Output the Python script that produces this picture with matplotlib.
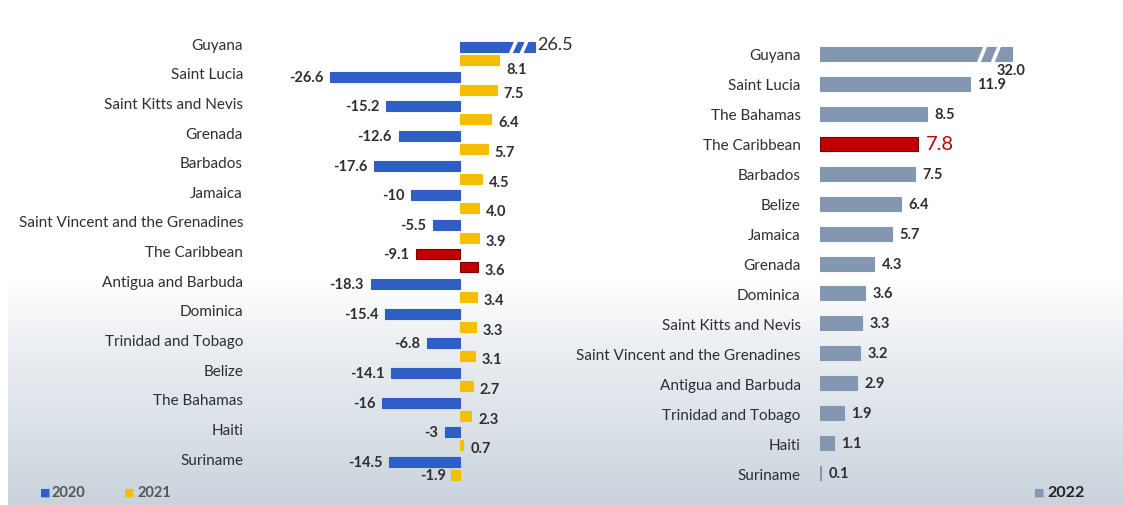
import numpy as np
import matplotlib.pyplot as plt
from matplotlib.colors import LinearSegmentedColormap

plt.rcParams['font.family'] = ['Lato', 'DejaVu Sans']

# left panel: growth 2020 / 2021
countries_left = ["Guyana", "Saint Lucia", "Saint Kitts and Nevis", "Grenada", "Barbados",
                  "Jamaica", "Saint Vincent and the Grenadines", "The Caribbean",
                  "Antigua and Barbuda", "Dominica", "Trinidad and Tobago", "Belize",
                  "The Bahamas", "Haiti", "Suriname"]
g2020 = [26.5, -26.6, -15.2, -12.6, -17.6, -10, -5.5, -9.1, -18.3, -15.4, -6.8, -14.1, -16, -3, -14.5]
g2021 = [8.1, 7.5, 6.4, 5.7, 4.5, 4.0, 3.9, 3.6, 3.4, 3.3, 3.1, 2.7, 2.3, 0.7, -1.9]

# right panel: growth 2022
countries_right = ["Guyana", "Saint Lucia", "The Bahamas", "The Caribbean", "Barbados", "Belize",
                   "Jamaica", "Grenada", "Dominica", "Saint Kitts and Nevis",
                   "Saint Vincent and the Grenadines", "Antigua and Barbuda",
                   "Trinidad and Tobago", "Haiti", "Suriname"]
g2022 = [32.0, 11.9, 8.5, 7.8, 7.5, 6.4, 5.7, 4.3, 3.6, 3.3, 3.2, 2.9, 1.9, 1.1, 0.1]

BLUE = '#2f5fc4'
YELLOW = '#f5bf00'
RED = '#c00000'
SLATE = '#8497b0'
TXT = '#2e2e2e'

W, H = 1123, 506
fig = plt.figure(figsize=(W / 100, H / 100), dpi=100)
fig.patch.set_facecolor('white')


def px_axes(x0, y0, x1, y1, **kw):
    return fig.add_axes([x0 / W, 1 - y1 / H, (x1 - x0) / W, (y1 - y0) / H], **kw)


# background gradient (white top, grey-blue bottom)
bg = px_axes(8, 0, W, H)
bg.set_zorder(-5)
cmap = LinearSegmentedColormap.from_list('bg', [(0, '#ffffff'), (0.56, '#ffffff'), (0.68, '#eceff3'),
                                                (0.84, '#dbe2e8'), (1, '#cad3dc')])
grad = np.linspace(0, 1, 256).reshape(-1, 1)
bg.imshow(grad, aspect='auto', cmap=cmap, extent=[0, 1, 1, 0])
bg.axis('off')

# ---- left panel ----
axL = px_axes(300, 30, 560, 490)
axL.patch.set_alpha(0)
n = len(countries_left)
rows = np.arange(n)
step = 29.64
off = 6.5 / step
hgt = 10 / step
cap_left = 15.4

blue_vals = [min(v, cap_left) for v in g2020]
col20 = [RED if c == "The Caribbean" else BLUE for c in countries_left]
col21 = [RED if c == "The Caribbean" else YELLOW for c in countries_left]
axL.barh(rows - off, blue_vals, height=hgt, color=col20,
         edgecolor=['#7a0000' if c == RED else c for c in col20], linewidth=0.8)
axL.barh(rows + off, g2021, height=hgt, color=col21,
         edgecolor=['#7a0000' if c == RED else c for c in col21], linewidth=0.8)

# axis break on Guyana bar
for xb in (10.4, 12.6):
    axL.plot([xb, xb + 1.2], [0 - off + hgt / 2 + 0.05, 0 - off - hgt / 2 - 0.05], color='white', lw=2.6,
             solid_capstyle='butt')

axL.set_xlim((300 - 460) / 4.87, (560 - 460) / 4.87)
axL.set_ylim(-0.827 + 460 / step, -0.827)
axL.set_yticks(rows - 0.35, countries_left)
axL.tick_params(axis='y', length=0, pad=41, labelsize=11, labelcolor=TXT)
axL.set_xticks([])
for s in axL.spines.values():
    s.set_visible(False)

for i, v in enumerate(g2020):
    if v > 0:
        axL.text(blue_vals[i] + 0.4, i - off - 0.1, f"{v:g}", ha='left', va='center',
                 fontsize=13, color=TXT)
    else:
        axL.text(v - 1.4, i - off, f"{v:g}", ha='right', va='center',
                 fontsize=10.5, fontweight='bold', color=TXT)
for i, v in enumerate(g2021):
    dy = 0.3 if i == 0 else 0.1
    if v >= 0:
        axL.text(v + 1.4, i + off + dy, f"{v:.1f}", ha='left', va='center',
                 fontsize=10.5, fontweight='bold', color=TXT)
    else:
        axL.text(v - 1.0, i + off, f"{v:.1f}", ha='right', va='center',
                 fontsize=10.5, fontweight='bold', color=TXT)

# ---- right panel ----
axR = px_axes(820, 30, 1110, 490)
axR.patch.set_alpha(0)
stepR = 29.93
rowsR = np.arange(len(countries_right))
cap_right = 15.2
vals22 = [min(v, cap_right) for v in g2022]
col22 = [RED if c == "The Caribbean" else SLATE for c in countries_right]
axR.barh(rowsR, vals22, height=14 / stepR, color=col22,
         edgecolor=['#7a0000' if c == RED else c for c in col22], linewidth=0.8)
for xb in (12.6, 13.7):
    axR.plot([xb, xb + 0.55], [0.28, -0.28], color='white', lw=2.6, solid_capstyle='butt')

axR.set_xlim(0, (1110 - 820) / 12.6)
axR.set_ylim(-0.835 + 460 / stepR, -0.835)
axR.set_yticks(rowsR, countries_right)
axR.tick_params(axis='y', length=0, pad=14, labelsize=11, labelcolor=TXT)
axR.set_xticks([])
for s in axR.spines.values():
    s.set_visible(False)

for i, v in enumerate(g2022):
    c = countries_right[i]
    if v > cap_right:
        axR.text(14.0, i + 0.55, f"{v:.1f}", ha='left', va='center',
                 fontsize=10.5, fontweight='bold', color=TXT)
    elif c == "The Caribbean":
        axR.text(v + 0.6, i, f"{v:.1f}", ha='left', va='center',
                 fontsize=14.5, color=RED)
    else:
        axR.text(v + 0.6, i, f"{v:.1f}", ha='left', va='center',
                 fontsize=10.5, fontweight='bold', color=TXT)

# legends
fig.text(40 / W, 1 - 493 / H, "■", color=BLUE, fontsize=8, va='center', family='DejaVu Sans')
fig.text(52 / W, 1 - 493 / H, "2020", color='#555555', fontsize=10.5, va='center', fontweight='bold')
fig.text(124 / W, 1 - 493 / H, "■", color=YELLOW, fontsize=8, va='center', family='DejaVu Sans')
fig.text(138 / W, 1 - 493 / H, "2021", color='#555555', fontsize=10.5, va='center', fontweight='bold')
fig.text(1034 / W, 1 - 493 / H, "■", color=SLATE, fontsize=8, va='center', family='DejaVu Sans')
fig.text(1047 / W, 1 - 493 / H, "2022", color='#222222', fontsize=11.5, va='center', fontweight='bold')

fig.savefig('out.png', dpi=100)
